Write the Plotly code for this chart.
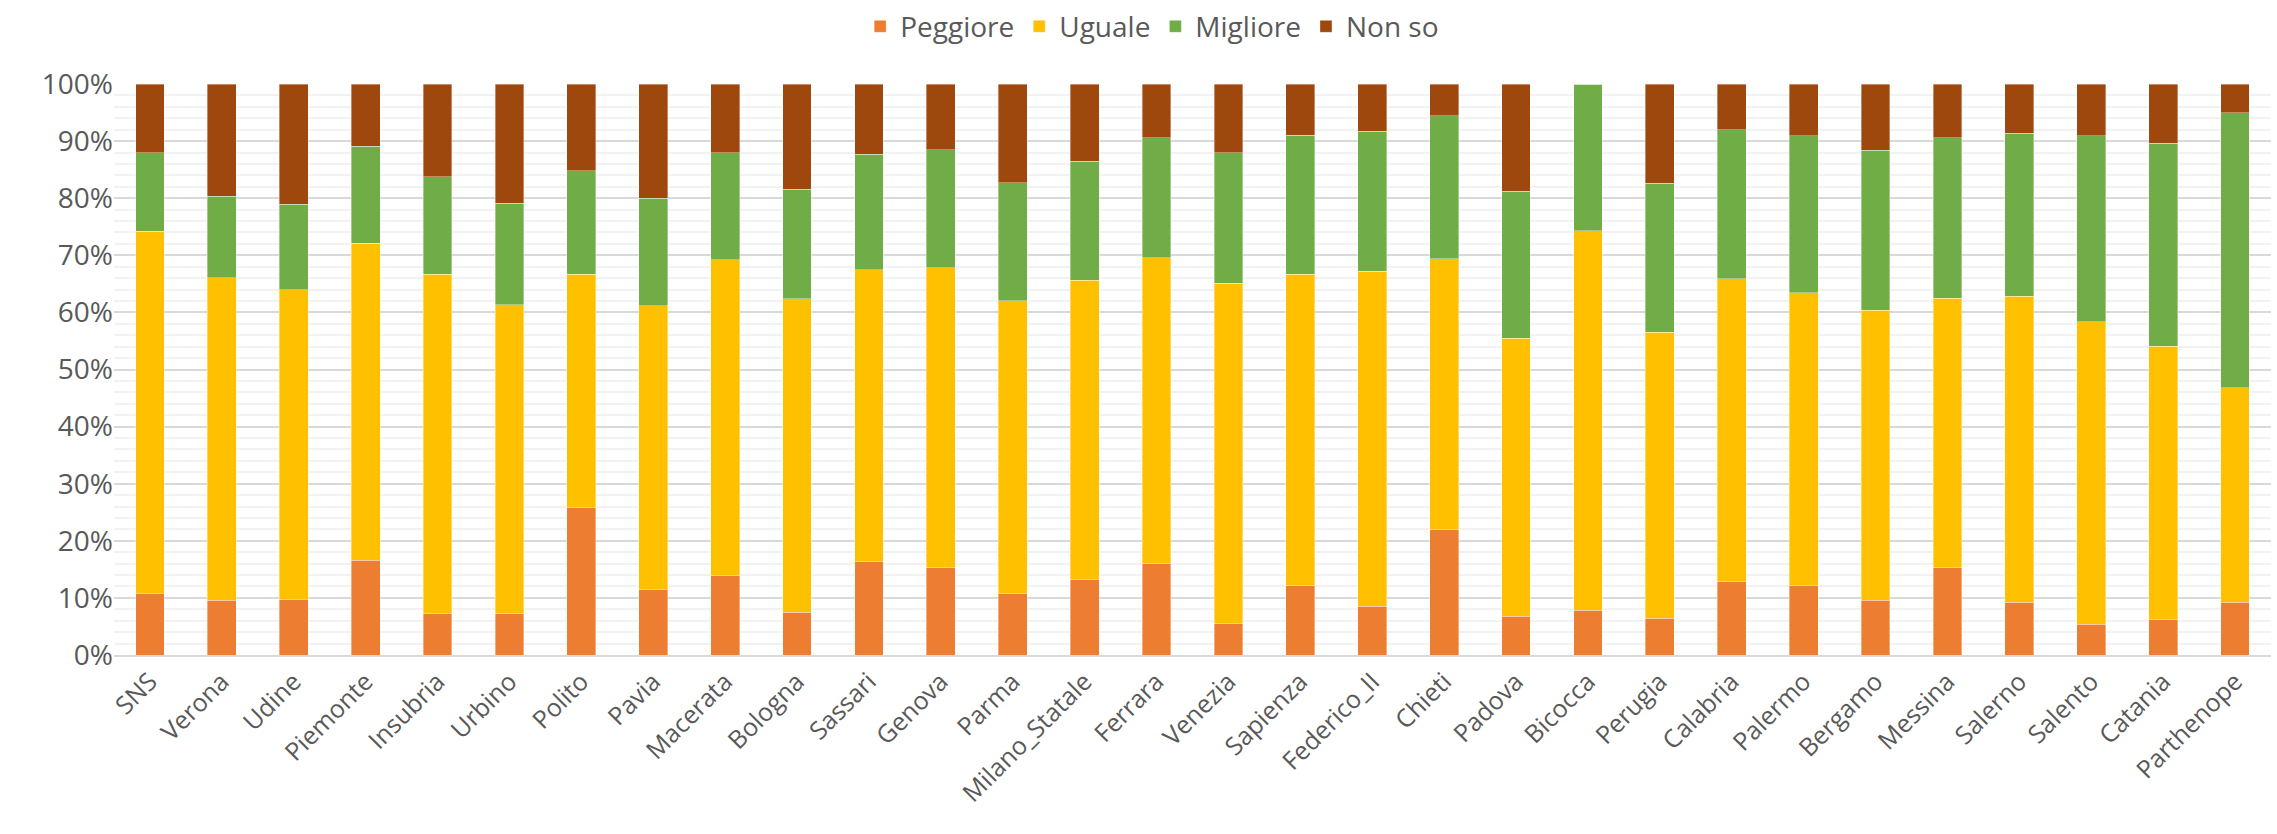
import plotly.graph_objects as go

categories = ["SNS", "Verona", "Udine", "Piemonte", "Insubria", "Urbino", "Polito", "Pavia",
              "Macerata", "Bologna", "Sassari", "Genova", "Parma", "Milano_Statale", "Ferrara",
              "Venezia", "Sapienza", "Federico_II", "Chieti", "Padova", "Bicocca", "Perugia",
              "Calabria", "Palermo", "Bergamo", "Messina", "Salerno", "Salento", "Catania", "Parthenope"]

peggiore = [10.7, 9.6, 9.7, 16.6, 7.3, 7.2, 25.9, 11.5, 14.0, 7.5, 16.4, 15.4, 10.8, 13.2, 16.1,
            5.6, 12.2, 8.5, 22.0, 6.8, 7.8, 6.4, 12.9, 12.1, 9.6, 15.4, 9.2, 5.4, 6.2, 9.2]
uguale = [63.5, 56.5, 54.3, 55.5, 59.4, 54.1, 40.8, 49.7, 55.2, 54.9, 51.1, 52.4, 51.2, 52.4, 53.5,
          59.5, 54.5, 58.7, 47.4, 48.7, 66.5, 50.1, 53.0, 51.3, 50.8, 47.1, 53.6, 53.0, 47.9, 37.6]
migliore = [13.8, 14.2, 14.9, 17.0, 17.1, 17.8, 18.1, 18.8, 18.8, 19.2, 20.2, 20.7, 20.7, 20.9, 21.0,
            22.9, 24.3, 24.5, 25.0, 25.7, 25.7, 26.1, 26.1, 27.5, 28.0, 28.1, 28.6, 32.5, 35.5, 48.2]
non_so = [12.0, 19.7, 21.1, 10.9, 16.2, 20.9, 15.2, 20.0, 12.0, 18.4, 12.3, 11.5, 17.3, 13.5, 9.4,
          12.0, 9.0, 8.3, 5.6, 18.8, 0.0, 17.4, 8.0, 9.1, 11.6, 9.4, 8.6, 9.1, 10.4, 5.0]

series = [
    ("Peggiore", peggiore, "#ED7D31"),
    ("Uguale", uguale, "#FFC000"),
    ("Migliore", migliore, "#70AD47"),
    ("Non so", non_so, "#9E480E"),
]

fig = go.Figure()
for name, vals, col in series:
    fig.add_trace(go.Bar(
        x=categories, y=vals, name=name,
        marker=dict(color=col, line=dict(width=0.6, color="rgba(255,255,255,0.6)")),
    ))

font_family = "Open Sans, Noto Sans, sans-serif"
fig.update_layout(
    barmode="stack",
    bargap=0.6,
    width=2277, height=834,
    margin=dict(l=114, r=6, t=84, b=179),
    paper_bgcolor="white",
    plot_bgcolor="white",
    font=dict(family=font_family, color="#595959", size=24),
    legend=dict(
        orientation="h", xref="container", yref="container",
        x=0.506, xanchor="center", y=0.998, yanchor="top",
        traceorder="normal", font=dict(size=28, color="#595959"),
        itemwidth=30,
    ),
    xaxis=dict(
        tickangle=-45, showgrid=False, showline=True, linecolor="#d9d9d9", linewidth=2,
        tickfont=dict(size=25, color="#595959"), ticks="",
    ),
    yaxis=dict(
        range=[0, 100], dtick=10, ticksuffix="%", showgrid=True, gridcolor="#d9d9d9",
        gridwidth=1.5, zeroline=False, tickfont=dict(size=28, color="#595959"), ticks="",
        minor=dict(dtick=2, showgrid=True, gridcolor="#f2f2f2", gridwidth=1.5),
    ),
    showlegend=True,
)

fig.write_html("out.html")
